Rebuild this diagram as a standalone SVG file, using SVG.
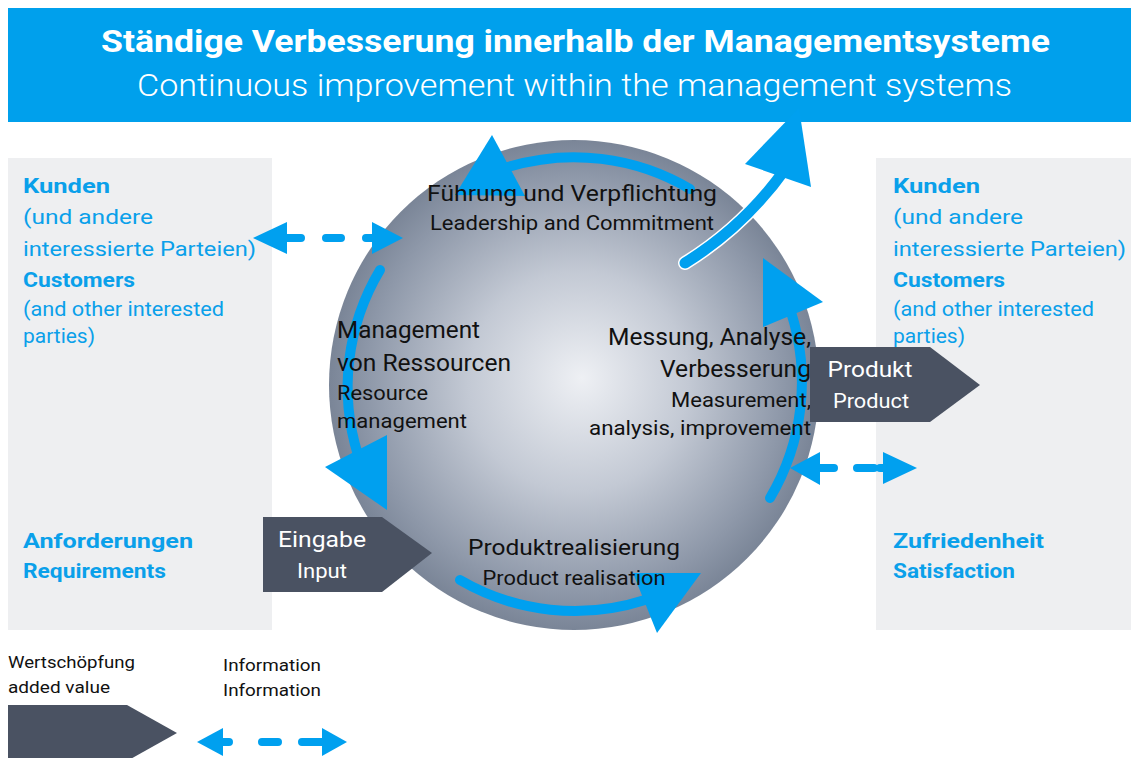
<svg xmlns="http://www.w3.org/2000/svg" width="1131" height="758" viewBox="0 0 1131 758">
<defs>
<radialGradient id="sph" cx="574" cy="385" r="245" fx="582" fy="378" gradientUnits="userSpaceOnUse">
<stop offset="0" stop-color="#eef0f4"/>
<stop offset="0.45" stop-color="#c3c9d4"/>
<stop offset="0.85" stop-color="#8e98a9"/>
<stop offset="1" stop-color="#7a8597"/>
</radialGradient>
<style>
.t{font-family:Roboto,"Liberation Sans",sans-serif}
.blue{fill:#0aa0ea}
.b{font-weight:700}
.dark{fill:#4a5262}
.arc{fill:none;stroke:#00a0ef;stroke-width:10;stroke-linecap:round}
.head{fill:#00a0ef}
.dash{fill:none;stroke:#00a0ef;stroke-width:8;stroke-linecap:round}
.in{fill:#111}
.w{fill:#fff}
</style>
</defs>
<rect width="1131" height="758" fill="#fff"/>

<g id="panel-left">
<rect x="8" y="158" width="264" height="472" fill="#eeeff1"/>
<text class="t blue b" x="23" y="193" font-size="21" textLength="87" lengthAdjust="spacingAndGlyphs">Kunden</text>
<text class="t blue" x="23" y="224" font-size="21" textLength="130" lengthAdjust="spacingAndGlyphs">(und andere</text>
<text class="t blue" x="23" y="256" font-size="21" textLength="233" lengthAdjust="spacingAndGlyphs">interessierte Parteien)</text>
<text class="t blue b" x="23" y="287" font-size="21" textLength="112" lengthAdjust="spacingAndGlyphs">Customers</text>
<text class="t blue" x="23" y="316" font-size="21" textLength="201" lengthAdjust="spacingAndGlyphs">(and other interested</text>
<text class="t blue" x="23" y="343" font-size="21" textLength="72" lengthAdjust="spacingAndGlyphs">parties)</text>
<text class="t blue b" x="23" y="548" font-size="21" textLength="170" lengthAdjust="spacingAndGlyphs">Anforderungen</text>
<text class="t blue b" x="23" y="578" font-size="21" textLength="143" lengthAdjust="spacingAndGlyphs">Requirements</text>
</g>

<g id="panel-right">
<rect x="876" y="158" width="255" height="472" fill="#eeeff1"/>
<text class="t blue b" x="893" y="193" font-size="21" textLength="87" lengthAdjust="spacingAndGlyphs">Kunden</text>
<text class="t blue" x="893" y="224" font-size="21" textLength="130" lengthAdjust="spacingAndGlyphs">(und andere</text>
<text class="t blue" x="893" y="256" font-size="21" textLength="233" lengthAdjust="spacingAndGlyphs">interessierte Parteien)</text>
<text class="t blue b" x="893" y="287" font-size="21" textLength="112" lengthAdjust="spacingAndGlyphs">Customers</text>
<text class="t blue" x="893" y="316" font-size="21" textLength="201" lengthAdjust="spacingAndGlyphs">(and other interested</text>
<text class="t blue" x="893" y="343" font-size="21" textLength="72" lengthAdjust="spacingAndGlyphs">parties)</text>
<text class="t blue b" x="893" y="548" font-size="21" textLength="151" lengthAdjust="spacingAndGlyphs">Zufriedenheit</text>
<text class="t blue b" x="893" y="578" font-size="21" textLength="122" lengthAdjust="spacingAndGlyphs">Satisfaction</text>
</g>

<g id="header">
<rect x="8" y="8" width="1123" height="114" fill="#00a0ec"/>
<text class="t w b" x="101" y="52" font-size="32" textLength="949" lengthAdjust="spacingAndGlyphs">Ständige Verbesserung innerhalb der Managementsysteme</text>
<text class="t w" x="137" y="96" font-size="31" font-weight="300" textLength="875" lengthAdjust="spacingAndGlyphs">Continuous improvement within the management systems</text>
</g>

<g id="sphere">
<circle cx="574" cy="385" r="245" fill="url(#sph)"/>
</g>

<g id="connectors">
<!-- cycle arcs -->
<path class="arc" d="M690,189 A228,228 0 0 0 508,167"/>
<polygon class="head" points="492,135 455,195 525,196"/>
<path class="arc" d="M380,270 A228,228 0 0 0 358,455"/>
<polygon class="head" points="325,467 387,435 387,510"/>
<path class="arc" d="M460,580 A228,228 0 0 0 645,600"/>
<polygon class="head" points="633,573 701,573 657,633"/>
<path class="arc" d="M770,498 A228,228 0 0 0 791,312"/>
<polygon class="head" points="763,258 823,302 763,327"/>
<!-- outgoing improvement arrow -->
<path d="M685,263 Q745,226 786,168" fill="none" stroke="#fff" stroke-width="14" stroke-linecap="round"/>
<path d="M685,263 Q745,226 786,168" fill="none" stroke="#00a0ef" stroke-width="11" stroke-linecap="round"/>
<polygon class="head" points="799,108 745,164 811,187"/>
<!-- information left -->
<polygon class="head" points="253,238 287,222 287,254"/>
<polygon class="head" points="403,238 372,222 372,254"/>
<path class="dash" d="M287,238 H301 M326,238 H341 M366,238 H372"/>
<!-- information right -->
<polygon class="head" points="790,468 820,452 820,485"/>
<polygon class="head" points="917,468 883,452 883,484"/>
<path class="dash" d="M820,468 H834 M857,468 H874 M880,468 H883"/>
</g>

<g id="node-leadership">
<text class="t in" x="572" y="201" font-size="22" text-anchor="middle" textLength="290" lengthAdjust="spacingAndGlyphs">Führung und Verpflichtung</text>
<text class="t in" x="572" y="230" font-size="20" text-anchor="middle" textLength="284" lengthAdjust="spacingAndGlyphs">Leadership and Commitment</text>
</g>

<g id="node-resources">
<text class="t in" x="337" y="338" font-size="23" textLength="143" lengthAdjust="spacingAndGlyphs">Management</text>
<text class="t in" x="337" y="371" font-size="23" textLength="174" lengthAdjust="spacingAndGlyphs">von Ressourcen</text>
<text class="t in" x="337" y="400" font-size="20" textLength="91" lengthAdjust="spacingAndGlyphs">Resource</text>
<text class="t in" x="337" y="428" font-size="20" textLength="130" lengthAdjust="spacingAndGlyphs">management</text>
</g>

<g id="node-measurement">
<text class="t in" x="811" y="345" font-size="23" text-anchor="end" textLength="203" lengthAdjust="spacingAndGlyphs">Messung, Analyse,</text>
<text class="t in" x="811" y="377" font-size="23" text-anchor="end" textLength="151" lengthAdjust="spacingAndGlyphs">Verbesserung</text>
<text class="t in" x="811" y="407" font-size="20" text-anchor="end" textLength="140" lengthAdjust="spacingAndGlyphs">Measurement,</text>
<text class="t in" x="811" y="435" font-size="20" text-anchor="end" textLength="222" lengthAdjust="spacingAndGlyphs">analysis, improvement</text>
</g>

<g id="node-realisation">
<text class="t in" x="574" y="555" font-size="22" text-anchor="middle" textLength="212" lengthAdjust="spacingAndGlyphs">Produktrealisierung</text>
<text class="t in" x="574" y="585" font-size="20" text-anchor="middle" textLength="183" lengthAdjust="spacingAndGlyphs">Product realisation</text>
</g>

<g id="node-input">
<polygon class="dark" points="263,517 382,517 432,553 382,592 263,592"/>
<text class="t w" x="322" y="547" font-size="22" text-anchor="middle" textLength="88" lengthAdjust="spacingAndGlyphs">Eingabe</text>
<text class="t w" x="322" y="578" font-size="20" text-anchor="middle" textLength="50" lengthAdjust="spacingAndGlyphs">Input</text>
</g>

<g id="node-product">
<polygon class="dark" points="810,347 930,347 980,385 930,422 810,422"/>
<text class="t w" x="870" y="377" font-size="22" text-anchor="middle" textLength="85" lengthAdjust="spacingAndGlyphs">Produkt</text>
<text class="t w" x="871" y="408" font-size="20" text-anchor="middle" textLength="76" lengthAdjust="spacingAndGlyphs">Product</text>
</g>

<g id="legend">
<text class="t in" x="8" y="668" font-size="17" textLength="127" lengthAdjust="spacingAndGlyphs">Wertschöpfung</text>
<text class="t in" x="8" y="693" font-size="17" textLength="102" lengthAdjust="spacingAndGlyphs">added value</text>
<polygon class="dark" points="8,705 127,705 177,733 127,761 8,761"/>
<text class="t in" x="223" y="671" font-size="17" textLength="98" lengthAdjust="spacingAndGlyphs">Information</text>
<text class="t in" x="223" y="696" font-size="17" textLength="98" lengthAdjust="spacingAndGlyphs">Information</text>
<polygon class="head" points="197,742 223,728 223,756"/>
<polygon class="head" points="347,742 322,728 322,756"/>
<path class="dash" d="M223,742 H229 M262,742 H278 M302,742 H322"/>
</g>
</svg>
